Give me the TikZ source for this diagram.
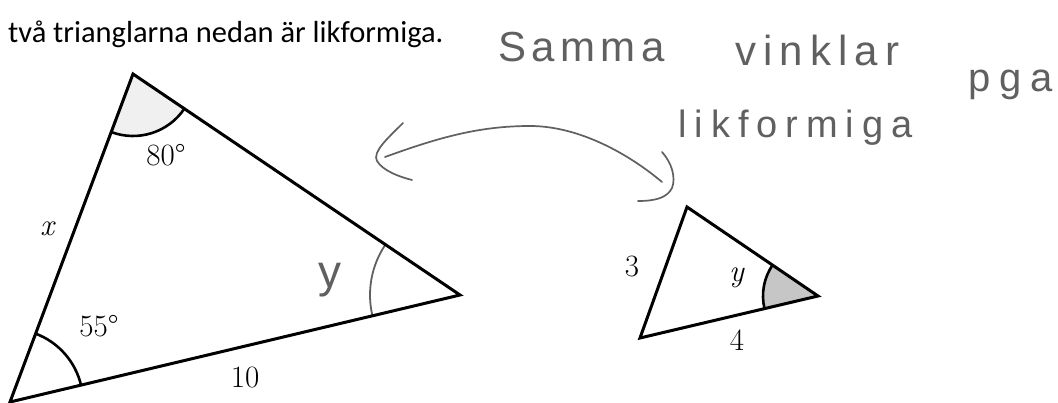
\documentclass[tikz,border=0pt]{standalone}
\usepackage{fontspec}
\newfontfamily\titlefont{Carlito}
\newfontfamily\hand{Liberation Sans}
\usetikzlibrary{angles}
\definecolor{pen}{HTML}{606060}
\begin{document}
\begin{tikzpicture}[x=1pt,y=-1pt,
  edge/.style={line width=3pt, line join=miter},
  lab/.style={font=\fontsize{31}{34}\selectfont, inner sep=0pt},
  handtxt/.style={text=pen, inner sep=0pt, anchor=base west},
  ink/.style={draw=pen, line width=1.7pt, line cap=round, line join=round}]
\useasboundingbox (0,0) rectangle (1058,403);
\fill[white] (0,0) rectangle (1058,403);
% big triangle
\coordinate (A) at (133,74);
\coordinate (B) at (10,402);
\coordinate (C) at (460,295);
% small triangle
\coordinate (P) at (687,207);
\coordinate (Q) at (640,338);
\coordinate (R) at (818,296);
% angle marks
\pic[draw, fill=gray!12, line width=2.6pt, angle radius=62pt] {angle=B--A--C};
\pic[draw, line width=2.6pt, angle radius=73pt] {angle=C--B--A};
\pic[draw=pen, line width=1.8pt, angle radius=90pt] {angle=A--C--B};
\pic[draw, fill=gray!45, line width=2.6pt, angle radius=55pt] {angle=P--R--Q};
% triangles
\draw[edge] (A) -- (B) -- (C) -- cycle;
\draw[edge] (P) -- (Q) -- (R) -- cycle;
% title
\node[anchor=base west, font=\titlefont\fontsize{30.5}{34}\selectfont, inner sep=0pt] (title) at (8,43) {två trianglarna nedan är likformiga.};
% labels
\node[lab] (l80) at (166,155) {80°};
\node[lab] (lx) at (48,229) {\textit{x}};
\node[lab] (l55) at (99,326) {55°};
\node[lab] (l10) at (245,378) {10};
\node[lab] (l3) at (632,267) {3};
\node[lab] (ly) at (737,278) {\textit{y}};
\node[lab] (l4) at (737,340) {4};
% handwriting
\node[handtxt, font=\hand\addfontfeature{LetterSpace=13}\fontsize{42}{46}\selectfont] (h1) at (498,62) {Samma};
\node[handtxt, font=\hand\addfontfeature{LetterSpace=17}\fontsize{42}{46}\selectfont] (h2) at (735,66) {vinklar};
\node[handtxt, font=\hand\addfontfeature{LetterSpace=22}\fontsize{40}{44}\selectfont] (h3) at (968,92) {pga};
\node[handtxt, font=\hand\addfontfeature{LetterSpace=21}\fontsize{38}{44}\selectfont] (h4) at (678,138) {likformiga};
\node[text=pen, inner sep=0pt, font=\hand\fontsize{46}{50}\selectfont] (hy) at (330,280) {y};
% handwritten double arrow
\draw[ink] (403,123) .. controls (388,138) and (372,152) .. (377,161) .. controls (383,171) and (400,177) .. (412,180);
\draw[ink] (385,157) .. controls (440,137) and (480,126) .. (530,126) .. controls (580,126) and (630,155) .. (662,182);
\draw[ink] (662,152) .. controls (672,163) and (676,178) .. (672,188) .. controls (667,198) and (655,201) .. (638,201);
\end{tikzpicture}
\end{document}
